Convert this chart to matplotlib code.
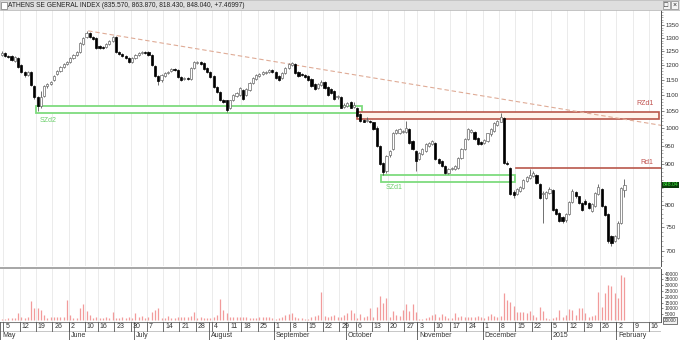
"""
Athens SE General Index — daily candles May 2014 .. Feb 2015 with volume
(recreation of a trading-terminal screenshot)
"""
import matplotlib
matplotlib.use("Agg")
import matplotlib.pyplot as plt
from matplotlib.patches import Rectangle
from matplotlib.ticker import FixedLocator, NullFormatter

plt.rcParams["font.family"] = ["Liberation Sans", "DejaVu Sans"]

# ── data (one entry per trading day, 2 May 2014 .. 4 Feb 2015) ────────────────
opens = [1237, 1244, 1233, 1233, 1216, 1226, 1201, 1177, 1166, 1177,
         1129, 1094, 1068, 1097, 1129, 1136, 1149, 1170, 1180, 1194,
         1205, 1212, 1226, 1237, 1248, 1277, 1303, 1319, 1303, 1299,
         1269, 1266, 1266, 1277, 1288, 1303, 1248, 1241, 1233, 1226,
         1212, 1226, 1237, 1244, 1248, 1248, 1237, 1198, 1163, 1149,
         1163, 1173, 1180, 1187, 1184, 1159, 1153, 1156, 1153, 1191,
         1209, 1212, 1209, 1191, 1177, 1163, 1126, 1110, 1087, 1084,
         1059, 1084, 1097, 1100, 1116, 1100, 1116, 1139, 1153, 1163,
         1170, 1173, 1177, 1184, 1177, 1163, 1156, 1173, 1191, 1201,
         1205, 1177, 1170, 1166, 1163, 1153, 1136, 1123, 1133, 1143,
         1126, 1120, 1113, 1094, 1094, 1065, 1068, 1078, 1065, 1062,
         1041, 1025, 1022, 1022, 1017, 1002, 950, 904, 884, 926,
         942, 987, 985, 990, 990, 999, 964, 937, 915, 928,
         937, 950, 956, 959, 915, 910, 897, 879, 889, 889,
         891, 918, 942, 970, 990, 990, 973, 961, 959, 964,
         982, 993, 1008, 1019, 1031, 904, 891, 831, 827, 834,
         841, 858, 866, 871, 873, 851, 827, 817, 829, 836,
         791, 782, 773, 766, 780, 808, 831, 820, 805, 810,
         805, 786, 798, 827, 839, 798, 780, 731, 721, 727,
         760, 835.57]
highs = [1250, 1248, 1237, 1237, 1233, 1230, 1205, 1180, 1180, 1180,
         1133, 1097, 1113, 1133, 1139, 1146, 1166, 1184, 1198, 1209,
         1216, 1230, 1241, 1251, 1284, 1303, 1327, 1323, 1307, 1303,
         1273, 1269, 1280, 1292, 1307, 1307, 1251, 1244, 1237, 1230,
         1230, 1241, 1248, 1251, 1251, 1251, 1241, 1201, 1166, 1170,
         1177, 1180, 1191, 1191, 1187, 1163, 1159, 1159, 1194, 1216,
         1216, 1216, 1212, 1194, 1180, 1166, 1129, 1113, 1090, 1087,
         1087, 1103, 1110, 1126, 1120, 1123, 1143, 1159, 1170, 1173,
         1180, 1180, 1187, 1187, 1180, 1166, 1177, 1194, 1209, 1212,
         1209, 1180, 1173, 1170, 1166, 1156, 1139, 1139, 1149, 1146,
         1129, 1123, 1116, 1100, 1097, 1075, 1078, 1081, 1078, 1065,
         1044, 1028, 1034, 1025, 1019, 1005, 953, 907, 926, 939,
         990, 999, 1002, 996, 1022, 1002, 967, 939, 934, 945,
         959, 961, 967, 961, 918, 912, 899, 891, 894, 899,
         920, 945, 973, 1002, 999, 993, 976, 964, 970, 987,
         1002, 1017, 1025, 1044, 1034, 910, 894, 836, 841, 846,
         863, 871, 889, 884, 876, 853, 834, 834, 843, 839,
         794, 784, 775, 782, 810, 839, 834, 822, 808, 813,
         808, 805, 831, 851, 841, 801, 782, 734, 734, 764,
         843, 863.87]
lows = [1233, 1230, 1226, 1216, 1212, 1191, 1173, 1160, 1163, 1129,
        1090, 1050, 1062, 1094, 1123, 1133, 1146, 1166, 1177, 1191,
        1201, 1209, 1223, 1233, 1244, 1273, 1299, 1299, 1292, 1258,
        1258, 1258, 1262, 1273, 1284, 1244, 1237, 1230, 1223, 1209,
        1209, 1223, 1233, 1241, 1241, 1233, 1198, 1159, 1133, 1143,
        1159, 1170, 1177, 1180, 1156, 1146, 1149, 1149, 1149, 1187,
        1205, 1201, 1184, 1173, 1156, 1123, 1107, 1081, 1075, 1047,
        1056, 1081, 1094, 1097, 1087, 1097, 1113, 1136, 1149, 1159,
        1166, 1170, 1173, 1173, 1153, 1146, 1153, 1170, 1187, 1198,
        1170, 1159, 1163, 1156, 1146, 1126, 1116, 1120, 1129, 1120,
        1097, 1103, 1087, 1090, 1059, 1062, 1065, 1059, 1062, 1034,
        1019, 1017, 1019, 1014, 996, 947, 899, 873, 879, 920,
        939, 982, 982, 987, 987, 956, 939, 884, 912, 926,
        934, 947, 953, 912, 902, 894, 876, 876, 886, 886,
        889, 915, 939, 967, 987, 967, 953, 953, 956, 961,
        979, 990, 1005, 1017, 902, 899, 824, 817, 824, 831,
        839, 856, 863, 868, 851, 813, 760, 815, 827, 786,
        777, 762, 760, 762, 777, 805, 817, 803, 786, 801,
        791, 784, 796, 824, 796, 775, 716, 710, 719, 725,
        757, 818.43]
closes = [1244, 1233, 1230, 1219, 1230, 1194, 1177, 1166, 1177, 1133,
          1094, 1068, 1094, 1129, 1136, 1143, 1163, 1180, 1194, 1205,
          1212, 1226, 1237, 1248, 1280, 1299, 1319, 1303, 1296, 1262,
          1262, 1262, 1277, 1288, 1303, 1248, 1241, 1233, 1226, 1212,
          1226, 1237, 1244, 1248, 1244, 1237, 1201, 1163, 1146, 1166,
          1173, 1177, 1187, 1184, 1159, 1149, 1156, 1153, 1191, 1212,
          1212, 1205, 1187, 1177, 1159, 1126, 1110, 1084, 1078, 1053,
          1084, 1100, 1107, 1123, 1090, 1120, 1139, 1156, 1166, 1170,
          1177, 1177, 1184, 1177, 1156, 1149, 1173, 1191, 1205, 1209,
          1173, 1163, 1166, 1159, 1149, 1129, 1120, 1136, 1143, 1123,
          1100, 1107, 1090, 1097, 1062, 1071, 1075, 1062, 1071, 1037,
          1022, 1019, 1025, 1017, 999, 950, 902, 881, 923, 937,
          987, 996, 999, 993, 1002, 959, 942, 910, 931, 942,
          956, 959, 964, 915, 904, 897, 879, 889, 891, 897,
          918, 942, 970, 999, 996, 970, 956, 956, 967, 985,
          999, 1014, 1022, 1034, 904, 902, 827, 824, 839, 843,
          861, 868, 873, 879, 853, 817, 829, 831, 839, 789,
          780, 764, 764, 780, 808, 834, 820, 805, 789, 803,
          794, 803, 829, 843, 798, 777, 721, 716, 731, 760,
          840.57, 848.04]
volumes = [1000, 1000, 1500, 1500, 1500, 5700, 2300, 1700, 2300, 16000,
           10500, 10000, 9000, 4300, 2000, 2800, 2300, 2500, 2500, 2500,
           17500, 4300, 2000, 1500, 10000, 14000, 8000, 4300, 1500, 3000,
           1500, 2000, 2300, 2000, 7100, 1500, 2000, 2800, 2000, 2300,
           1800, 5700, 3000, 3500, 1500, 2500, 7000, 8500, 10500, 2000,
           1500, 3500, 1500, 2000, 3000, 2300, 3000, 2800, 3300, 7000,
           1500, 2800, 2000, 2000, 2000, 2300, 4300, 18500, 8500, 5700,
           2300, 2300, 2800, 2500, 2800, 2500, 1800, 2000, 1500, 2800,
           2800, 2300, 2500, 1500, 1000, 2000, 3000, 4500, 5000, 5700,
           2300, 1500, 1500, 1200, 1000, 2500, 3500, 4300, 24000, 3500,
           2800, 3500, 4000, 2500, 2800, 4300, 6300, 8600, 5700, 2000,
           5100, 2300, 3500, 10000, 2300, 11400, 20600, 14300, 18600, 2300,
           8000, 4300, 3500, 8600, 13700, 8000, 13400, 7100, 1000, 1000,
           1500, 2800, 4300, 5100, 2800, 5000, 3500, 1500, 2000, 5700,
           2300, 3500, 2300, 2800, 2300, 2800, 3500, 2300, 1500, 3500,
           4900, 3500, 2800, 3500, 23500, 17000, 15700, 12000, 7100, 7100,
           7100, 6300, 8000, 4300, 2800, 11400, 7700, 1500, 1000, 1500,
           2800, 8600, 2800, 4300, 9100, 8600, 4300, 10000, 10000, 5700,
           2800, 3500, 4300, 24300, 11400, 23000, 30000, 29000, 22900, 18600,
           38600, 37200]

tick_pos = [1, 6, 11, 16, 21, 26, 30, 35, 40, 45, 50, 55, 60, 65, 70, 74, 79,
            84, 89, 94, 99, 104, 109, 114, 119, 124, 128, 133, 138, 143, 148,
            153, 158, 163, 169, 174, 179, 184, 189, 194, 199]
tick_lbl = ["5", "12", "19", "26", "2", "10", "16", "23", "30", "7", "14", "21",
            "28", "4", "11", "18", "25", "1", "8", "15", "22", "29", "6", "13",
            "20", "27", "3", "10", "17", "24", "1", "8", "15", "22", "5", "12",
            "19", "26", "2", "9", "16"]
month_pos = [0, 21, 41, 64, 84, 106, 128, 148, 169, 189]
month_lbl = ["May", "June", "July", "August", "September", "October",
             "November", "December", "2015", "February"]

price_ticks = list(range(700, 1351, 50))
vol_ticks = list(range(5000, 40001, 5000))

# drawn levels (price) and their day spans
SZD2 = (1045, 1066, 10.5, 110.4)
SZD1 = (856, 874, 116.2, 157.3)
RZD1 = (1026, 1049, 109.1, 201.6)
RD1 = (891, 157.6, 202.5)
TREND = ((26.5, 1327), (202.5, 1008))

# ── layout (pixel boxes in a 680x340 figure) ─────────────────────────────────
W, H = 680, 340
XLIM = (-0.54, 202.2)


def box(x0, y0, x1, y1):
    return [x0 / W, 1 - y1 / H, (x1 - x0) / W, (y1 - y0) / H]


fig = plt.figure(figsize=(6.8, 3.4), dpi=100)
ax_p = fig.add_axes(box(0, 10, 661, 266))
ax_v = fig.add_axes(box(0, 269, 661, 322))
ax_x = fig.add_axes(box(0, 322, 661, 340))

TXT = "#333333"
GRID = "#e8e8e8"
days = list(range(len(closes)))

# ── price panel ──────────────────────────────────────────────────────────────
ax_p.set_yscale("log")
ax_p.set_xlim(*XLIM)
ax_p.set_ylim(670, 1410)
for p in tick_pos:
    ax_p.axvline(p - 0.5, color=GRID, lw=0.6, zorder=0)

# zones
ax_p.add_patch(Rectangle((SZD2[2], SZD2[0]), SZD2[3] - SZD2[2], SZD2[1] - SZD2[0],
                         facecolor="white", edgecolor="#7edb7e", lw=1.3, zorder=1))
ax_p.add_patch(Rectangle((SZD1[2], SZD1[0]), SZD1[3] - SZD1[2], SZD1[1] - SZD1[0],
                         facecolor="none", edgecolor="#7edb7e", lw=1.3, zorder=1))
ax_p.add_patch(Rectangle((RZD1[2], RZD1[0]), RZD1[3] - RZD1[2], RZD1[1] - RZD1[0],
                         facecolor="#fff4ec", edgecolor="#b9584c", lw=1.2, zorder=1))
ax_p.plot([RD1[1], RD1[2]], [RD1[0], RD1[0]], color="#b9584c", lw=1.2, zorder=1)
ax_p.plot([TREND[0][0], TREND[1][0]], [TREND[0][1], TREND[1][1]],
          color="#dfab96", lw=0.8, ls=(0, (4, 2.5)), zorder=2)

ax_p.text(11.7, 1022, "SZd2", color="#6ccf6c", fontsize=5, va="center")
ax_p.text(117.7, 841, "SZd1", color="#6ccf6c", fontsize=5, va="center")
ax_p.text(199.8, 1075, "RZd1", color="#c0504d", fontsize=5, va="center", ha="right")
ax_p.text(199.8, 905, "Rd1", color="#c0504d", fontsize=5, va="center", ha="right")

# candles
ax_p.vlines(days, lows, highs, color="#5a5a5a", lw=0.6, zorder=3)
for d, o, c in zip(days, opens, closes):
    lo, hi = min(o, c), max(o, c)
    if hi - lo < 1.5:
        hi = lo + 1.5
    up = c >= o
    ax_p.add_patch(Rectangle((d - 0.33, lo), 0.66, hi - lo,
                             facecolor="white" if up else "black",
                             edgecolor="#6a6a6a" if up else "black",
                             lw=0.5, zorder=4))

# right axis (the 850 label sits under the last-price box, as in the terminal)
for s in ("top", "left", "bottom"):
    ax_p.spines[s].set_visible(False)
ax_p.spines["right"].set_color("#555555")
ax_p.spines["right"].set_linewidth(0.7)
ax_p.yaxis.tick_right()
ax_p.yaxis.set_major_locator(FixedLocator(price_ticks))
ax_p.set_yticklabels(["" if v == 850 else str(v) for v in price_ticks])
ax_p.yaxis.set_minor_locator(FixedLocator(list(range(680, 1410, 10))))
ax_p.yaxis.set_minor_formatter(NullFormatter())
ax_p.tick_params(axis="y", which="major", length=2, width=0.5, pad=1,
                 labelsize=4.4, colors="#555555", labelcolor=TXT)
ax_p.tick_params(axis="y", which="minor", length=1.2, width=0.4, colors="#777777")
ax_p.set_xticks([])

ax_p.text(1.002, closes[-1], f"{closes[-1]:.2f}", transform=ax_p.get_yaxis_transform(),
          fontsize=3.7, color="#3cf03c", va="center", ha="left", zorder=6,
          bbox=dict(boxstyle="square,pad=0.12", facecolor="#0b3a0b", edgecolor="none"))

# ── volume panel ─────────────────────────────────────────────────────────────
ax_v.set_xlim(*XLIM)
ax_v.set_ylim(-1700, 44000)
for p in tick_pos:
    ax_v.axvline(p - 0.5, color=GRID, lw=0.6, zorder=0)
ax_v.vlines(days, 0, volumes, color="#f29b9b", lw=0.9, zorder=2)
for s in ("top", "left", "bottom"):
    ax_v.spines[s].set_visible(False)
ax_v.spines["right"].set_color("#555555")
ax_v.spines["right"].set_linewidth(0.7)
ax_v.yaxis.tick_right()
ax_v.set_yticks(vol_ticks)
ax_v.set_yticklabels([str(v) for v in vol_ticks])
ax_v.tick_params(axis="y", length=1.5, width=0.5, pad=1, labelsize=3.5,
                 colors="#555555", labelcolor=TXT)
ax_v.set_xticks([])
ax_v.text(1.004, -300, "20000", transform=ax_v.get_yaxis_transform(), fontsize=3.3,
          color=TXT, va="center", ha="left",
          bbox=dict(boxstyle="square,pad=0.15", facecolor="#f2f2f2", edgecolor="#444444", lw=0.5))

# ── date band ────────────────────────────────────────────────────────────────
ax_x.set_xlim(*XLIM)
ax_x.set_ylim(0, 1)
ax_x.axis("off")
ax_x.axhline(0.98, color="#808080", lw=0.8)
ax_x.axhline(0.5, color="#b0b0b0", lw=0.5)
for p, lbl in zip(tick_pos, tick_lbl):
    ax_x.plot([p - 0.5, p - 0.5], [0.5, 1], color="#555555", lw=0.6)
    ax_x.text(p + 0.1, 0.73, lbl, fontsize=5, color=TXT, ha="left", va="center")
for p, lbl in zip(month_pos, month_lbl):
    ax_x.plot([p - 0.5, p - 0.5], [0, 1], color="#555555", lw=0.6)
    ax_x.text(p + 0.1, 0.24, lbl, fontsize=5, color=TXT, ha="left", va="center")

# ── frame: title bar, panel separator, window buttons ────────────────────────
fig.patches.append(Rectangle((0, 1 - 10 / H), 1, 10 / H, transform=fig.transFigure,
                             facecolor="#dedede", edgecolor="#b4b4b4", lw=0.5))
fig.patches.append(Rectangle((1 / W, 1 - 8.5 / H), 6 / W, 6 / H, transform=fig.transFigure,
                             facecolor="white", edgecolor="#777777", lw=0.5))
fig.text(8 / W, 1 - 5.2 / H,
         "ATHENS SE GENERAL INDEX (835.570, 863.870, 818.430, 848.040, +7.46997)",
         fontsize=4.8, color="#222222", va="center", ha="left")
for bx, glyph in ((663, "\u25a1"), (671, "\u00d7")):
    fig.patches.append(Rectangle((bx / W, 1 - 9 / H), 7 / W, 7.5 / H, transform=fig.transFigure,
                                 facecolor="#f4f4f4", edgecolor="#888888", lw=0.5))
    fig.text((bx + 3.5) / W, 1 - 5.2 / H, glyph, fontsize=5, color="#222222",
             ha="center", va="center")
fig.patches.append(Rectangle((0, 1 - 269 / H), 661 / W, 2.2 / H, transform=fig.transFigure,
                             facecolor="#a8a8a8", edgecolor="none"))

fig.savefig("out.png", dpi=100)
